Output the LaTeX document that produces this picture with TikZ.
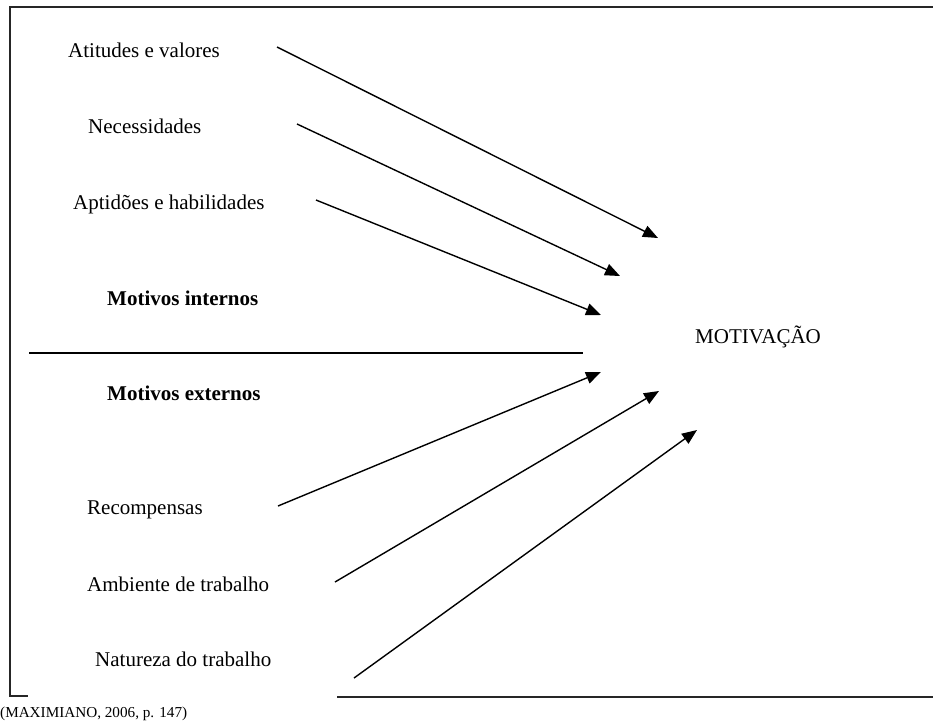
\documentclass[tikz,border=0pt]{standalone}
\usepackage{fontspec}
\setmainfont{Liberation Serif}
\usetikzlibrary{arrows.meta}
\begin{document}
\begin{tikzpicture}[x=1pt,y=-1pt,
  lbl/.style={anchor=base west,inner sep=0pt,font=\fontsize{21}{24}\selectfont},
  blbl/.style={lbl,font=\fontsize{21}{24}\selectfont\bfseries},
  arr/.style={line width=1.4pt,-{Triangle[length=15pt,width=12pt]}},
  frame/.style={line width=1.1pt,black!85}]
\useasboundingbox (0,0) rectangle (933,721);
% frame
\draw[frame] (933,7) -- (10,7) -- (10,696) -- (28,696);
\draw[frame] (337,697) -- (933,697);
\draw[line width=1.2pt] (29,353) -- (583,353);
% labels
\node[lbl] (att) at (68,57) {Atitudes e valores};
\node[lbl] (nec) at (88,133) {Necessidades};
\node[lbl] (apt) at (73,209) {Aptidões e habilidades};
\node[blbl] (mi) at (107,305) {Motivos internos};
\node[blbl] (me) at (107,400) {Motivos externos};
\node[lbl] (rec) at (87,514) {Recompensas};
\node[lbl] (amb) at (87,591) {Ambiente de trabalho};
\node[lbl] (nat) at (95,666) {Natureza do trabalho};
\node[lbl] (mot) at (695,343) {MOTIVAÇÃO};
\node[lbl,font=\fontsize{15.2}{18}\selectfont] (cit) at (0,717) {(MAXIMIANO, 2006, p. 147)};
% arrow endpoints
\coordinate (s1) at (277,47);  \coordinate (t1) at (658,238);
\coordinate (s2) at (297,124); \coordinate (t2) at (620,276);
\coordinate (s3) at (316,200); \coordinate (t3) at (601,315);
\coordinate (s4) at (278,506); \coordinate (t4) at (601,372);
\coordinate (s5) at (335,582); \coordinate (t5) at (659,391);
\coordinate (s6) at (354,678); \coordinate (t6) at (697,430);
\foreach \i in {1,...,6} \draw[arr] (s\i) -- (t\i);
\end{tikzpicture}
\end{document}
